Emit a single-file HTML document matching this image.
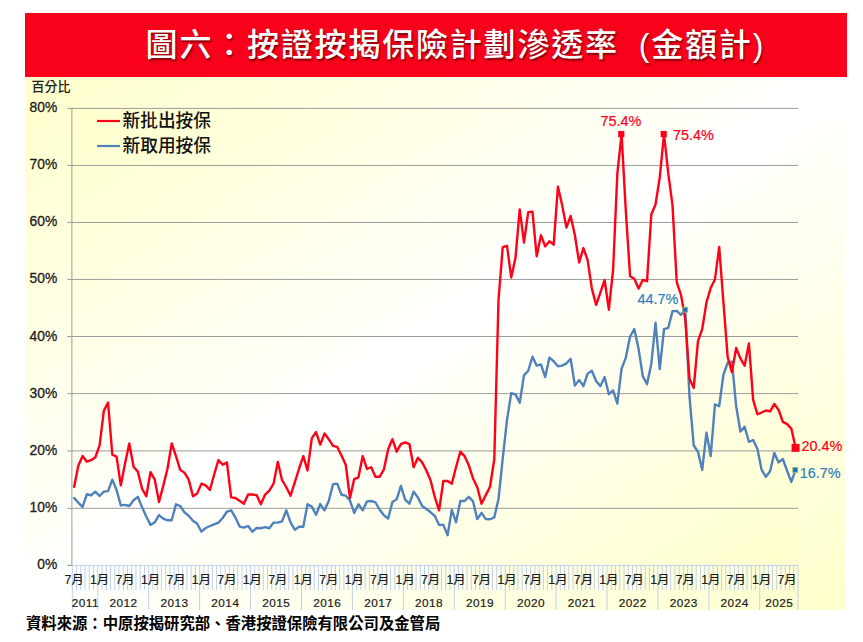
<!DOCTYPE html>
<html lang="zh-Hant">
<head>
<meta charset="utf-8">
<title>圖六：按證按揭保險計劃滲透率 (金額計)</title>
<style>
html,body{margin:0;padding:0;background:#fff;}
body{width:863px;height:642px;position:relative;overflow:hidden;font-family:"Liberation Sans","Noto Sans CJK TC",sans-serif;}
#banner{position:absolute;left:25px;top:13px;width:822px;height:64px;background:#f9001b;}
#title{position:absolute;left:0;top:0;width:822px;height:64px;line-height:64px;color:#fff;white-space:pre;
 font-family:"Liberation Sans","Noto Sans CJK TC",sans-serif;font-size:32px;font-weight:500;letter-spacing:1.8px;
 text-shadow:1px 2px 2px rgba(90,0,0,.75);}
#title span{position:absolute;top:0;}
#t1{left:120.6px;}
#t2{left:613.8px;}
#chartbg{position:absolute;left:25px;top:77px;width:820px;height:533px;
 background:linear-gradient(to bottom right,#ffffcc 0%,#ffffff 50%,#ffffcc 100%);}
#plotbg{position:absolute;left:72px;top:108px;width:726px;height:457px;
 background:linear-gradient(to bottom right,#ffffcc 0%,#ffffff 50%,#ffffcc 100%);}
svg{position:absolute;left:0;top:0;}
#foot{position:absolute;left:26px;top:613px;font-size:15.35px;font-weight:700;color:#000;white-space:nowrap;line-height:22px;
 font-family:"Liberation Sans","Noto Sans CJK TC",sans-serif;}
</style>
</head>
<body>
<div id="banner"><div id="title"><span id="t1">圖六：按證按揭保險計劃滲透率</span><span id="t2">(金額計)</span></div></div>
<div id="chartbg"></div>
<div id="plotbg"></div>
<svg width="863" height="642" viewBox="0 0 863 642">

<g stroke="#9c9c9c" stroke-width="1">
<line x1="67.2" y1="508.30" x2="798" y2="508.30"/>
<line x1="67.2" y1="450.95" x2="798" y2="450.95"/>
<line x1="67.2" y1="393.60" x2="798" y2="393.60"/>
<line x1="67.2" y1="336.50" x2="798" y2="336.50"/>
<line x1="67.2" y1="279.45" x2="798" y2="279.45"/>
<line x1="67.2" y1="222.45" x2="798" y2="222.45"/>
<line x1="67.2" y1="165.45" x2="798" y2="165.45"/>
<line x1="67.2" y1="108.40" x2="798" y2="108.40"/>
<line x1="67.2" y1="565.40" x2="72.4" y2="565.40"/>
<line x1="71.9" y1="107.90" x2="71.9" y2="565.90"/>
</g>
<g stroke="#c0d0eb" stroke-width="1">
<line x1="72.4" y1="565.40" x2="798.4" y2="565.40"/>
<line x1="72.30" y1="565.40" x2="72.30" y2="610"/>
<line x1="76.54" y1="565.40" x2="76.54" y2="590"/>
<line x1="80.79" y1="565.40" x2="80.79" y2="590"/>
<line x1="85.03" y1="565.40" x2="85.03" y2="590"/>
<line x1="89.28" y1="565.40" x2="89.28" y2="590"/>
<line x1="93.52" y1="565.40" x2="93.52" y2="590"/>
<line x1="97.76" y1="565.40" x2="97.76" y2="610"/>
<line x1="102.01" y1="565.40" x2="102.01" y2="590"/>
<line x1="106.25" y1="565.40" x2="106.25" y2="590"/>
<line x1="110.49" y1="565.40" x2="110.49" y2="590"/>
<line x1="114.74" y1="565.40" x2="114.74" y2="590"/>
<line x1="118.98" y1="565.40" x2="118.98" y2="590"/>
<line x1="123.23" y1="565.40" x2="123.23" y2="590"/>
<line x1="127.47" y1="565.40" x2="127.47" y2="590"/>
<line x1="131.71" y1="565.40" x2="131.71" y2="590"/>
<line x1="135.96" y1="565.40" x2="135.96" y2="590"/>
<line x1="140.20" y1="565.40" x2="140.20" y2="590"/>
<line x1="144.45" y1="565.40" x2="144.45" y2="590"/>
<line x1="148.69" y1="565.40" x2="148.69" y2="610"/>
<line x1="152.93" y1="565.40" x2="152.93" y2="590"/>
<line x1="157.18" y1="565.40" x2="157.18" y2="590"/>
<line x1="161.42" y1="565.40" x2="161.42" y2="590"/>
<line x1="165.66" y1="565.40" x2="165.66" y2="590"/>
<line x1="169.91" y1="565.40" x2="169.91" y2="590"/>
<line x1="174.15" y1="565.40" x2="174.15" y2="590"/>
<line x1="178.40" y1="565.40" x2="178.40" y2="590"/>
<line x1="182.64" y1="565.40" x2="182.64" y2="590"/>
<line x1="186.88" y1="565.40" x2="186.88" y2="590"/>
<line x1="191.13" y1="565.40" x2="191.13" y2="590"/>
<line x1="195.37" y1="565.40" x2="195.37" y2="590"/>
<line x1="199.62" y1="565.40" x2="199.62" y2="610"/>
<line x1="203.86" y1="565.40" x2="203.86" y2="590"/>
<line x1="208.10" y1="565.40" x2="208.10" y2="590"/>
<line x1="212.35" y1="565.40" x2="212.35" y2="590"/>
<line x1="216.59" y1="565.40" x2="216.59" y2="590"/>
<line x1="220.84" y1="565.40" x2="220.84" y2="590"/>
<line x1="225.08" y1="565.40" x2="225.08" y2="590"/>
<line x1="229.32" y1="565.40" x2="229.32" y2="590"/>
<line x1="233.57" y1="565.40" x2="233.57" y2="590"/>
<line x1="237.81" y1="565.40" x2="237.81" y2="590"/>
<line x1="242.05" y1="565.40" x2="242.05" y2="590"/>
<line x1="246.30" y1="565.40" x2="246.30" y2="590"/>
<line x1="250.54" y1="565.40" x2="250.54" y2="610"/>
<line x1="254.79" y1="565.40" x2="254.79" y2="590"/>
<line x1="259.03" y1="565.40" x2="259.03" y2="590"/>
<line x1="263.27" y1="565.40" x2="263.27" y2="590"/>
<line x1="267.52" y1="565.40" x2="267.52" y2="590"/>
<line x1="271.76" y1="565.40" x2="271.76" y2="590"/>
<line x1="276.01" y1="565.40" x2="276.01" y2="590"/>
<line x1="280.25" y1="565.40" x2="280.25" y2="590"/>
<line x1="284.49" y1="565.40" x2="284.49" y2="590"/>
<line x1="288.74" y1="565.40" x2="288.74" y2="590"/>
<line x1="292.98" y1="565.40" x2="292.98" y2="590"/>
<line x1="297.22" y1="565.40" x2="297.22" y2="590"/>
<line x1="301.47" y1="565.40" x2="301.47" y2="610"/>
<line x1="305.71" y1="565.40" x2="305.71" y2="590"/>
<line x1="309.96" y1="565.40" x2="309.96" y2="590"/>
<line x1="314.20" y1="565.40" x2="314.20" y2="590"/>
<line x1="318.44" y1="565.40" x2="318.44" y2="590"/>
<line x1="322.69" y1="565.40" x2="322.69" y2="590"/>
<line x1="326.93" y1="565.40" x2="326.93" y2="590"/>
<line x1="331.18" y1="565.40" x2="331.18" y2="590"/>
<line x1="335.42" y1="565.40" x2="335.42" y2="590"/>
<line x1="339.66" y1="565.40" x2="339.66" y2="590"/>
<line x1="343.91" y1="565.40" x2="343.91" y2="590"/>
<line x1="348.15" y1="565.40" x2="348.15" y2="590"/>
<line x1="352.39" y1="565.40" x2="352.39" y2="610"/>
<line x1="356.64" y1="565.40" x2="356.64" y2="590"/>
<line x1="360.88" y1="565.40" x2="360.88" y2="590"/>
<line x1="365.13" y1="565.40" x2="365.13" y2="590"/>
<line x1="369.37" y1="565.40" x2="369.37" y2="590"/>
<line x1="373.61" y1="565.40" x2="373.61" y2="590"/>
<line x1="377.86" y1="565.40" x2="377.86" y2="590"/>
<line x1="382.10" y1="565.40" x2="382.10" y2="590"/>
<line x1="386.35" y1="565.40" x2="386.35" y2="590"/>
<line x1="390.59" y1="565.40" x2="390.59" y2="590"/>
<line x1="394.83" y1="565.40" x2="394.83" y2="590"/>
<line x1="399.08" y1="565.40" x2="399.08" y2="590"/>
<line x1="403.32" y1="565.40" x2="403.32" y2="610"/>
<line x1="407.56" y1="565.40" x2="407.56" y2="590"/>
<line x1="411.81" y1="565.40" x2="411.81" y2="590"/>
<line x1="416.05" y1="565.40" x2="416.05" y2="590"/>
<line x1="420.30" y1="565.40" x2="420.30" y2="590"/>
<line x1="424.54" y1="565.40" x2="424.54" y2="590"/>
<line x1="428.78" y1="565.40" x2="428.78" y2="590"/>
<line x1="433.03" y1="565.40" x2="433.03" y2="590"/>
<line x1="437.27" y1="565.40" x2="437.27" y2="590"/>
<line x1="441.52" y1="565.40" x2="441.52" y2="590"/>
<line x1="445.76" y1="565.40" x2="445.76" y2="590"/>
<line x1="450.00" y1="565.40" x2="450.00" y2="590"/>
<line x1="454.25" y1="565.40" x2="454.25" y2="610"/>
<line x1="458.49" y1="565.40" x2="458.49" y2="590"/>
<line x1="462.74" y1="565.40" x2="462.74" y2="590"/>
<line x1="466.98" y1="565.40" x2="466.98" y2="590"/>
<line x1="471.22" y1="565.40" x2="471.22" y2="590"/>
<line x1="475.47" y1="565.40" x2="475.47" y2="590"/>
<line x1="479.71" y1="565.40" x2="479.71" y2="590"/>
<line x1="483.95" y1="565.40" x2="483.95" y2="590"/>
<line x1="488.20" y1="565.40" x2="488.20" y2="590"/>
<line x1="492.44" y1="565.40" x2="492.44" y2="590"/>
<line x1="496.69" y1="565.40" x2="496.69" y2="590"/>
<line x1="500.93" y1="565.40" x2="500.93" y2="590"/>
<line x1="505.17" y1="565.40" x2="505.17" y2="610"/>
<line x1="509.42" y1="565.40" x2="509.42" y2="590"/>
<line x1="513.66" y1="565.40" x2="513.66" y2="590"/>
<line x1="517.91" y1="565.40" x2="517.91" y2="590"/>
<line x1="522.15" y1="565.40" x2="522.15" y2="590"/>
<line x1="526.39" y1="565.40" x2="526.39" y2="590"/>
<line x1="530.64" y1="565.40" x2="530.64" y2="590"/>
<line x1="534.88" y1="565.40" x2="534.88" y2="590"/>
<line x1="539.12" y1="565.40" x2="539.12" y2="590"/>
<line x1="543.37" y1="565.40" x2="543.37" y2="590"/>
<line x1="547.61" y1="565.40" x2="547.61" y2="590"/>
<line x1="551.86" y1="565.40" x2="551.86" y2="590"/>
<line x1="556.10" y1="565.40" x2="556.10" y2="610"/>
<line x1="560.34" y1="565.40" x2="560.34" y2="590"/>
<line x1="564.59" y1="565.40" x2="564.59" y2="590"/>
<line x1="568.83" y1="565.40" x2="568.83" y2="590"/>
<line x1="573.08" y1="565.40" x2="573.08" y2="590"/>
<line x1="577.32" y1="565.40" x2="577.32" y2="590"/>
<line x1="581.56" y1="565.40" x2="581.56" y2="590"/>
<line x1="585.81" y1="565.40" x2="585.81" y2="590"/>
<line x1="590.05" y1="565.40" x2="590.05" y2="590"/>
<line x1="594.29" y1="565.40" x2="594.29" y2="590"/>
<line x1="598.54" y1="565.40" x2="598.54" y2="590"/>
<line x1="602.78" y1="565.40" x2="602.78" y2="590"/>
<line x1="607.03" y1="565.40" x2="607.03" y2="610"/>
<line x1="611.27" y1="565.40" x2="611.27" y2="590"/>
<line x1="615.51" y1="565.40" x2="615.51" y2="590"/>
<line x1="619.76" y1="565.40" x2="619.76" y2="590"/>
<line x1="624.00" y1="565.40" x2="624.00" y2="590"/>
<line x1="628.25" y1="565.40" x2="628.25" y2="590"/>
<line x1="632.49" y1="565.40" x2="632.49" y2="590"/>
<line x1="636.73" y1="565.40" x2="636.73" y2="590"/>
<line x1="640.98" y1="565.40" x2="640.98" y2="590"/>
<line x1="645.22" y1="565.40" x2="645.22" y2="590"/>
<line x1="649.46" y1="565.40" x2="649.46" y2="590"/>
<line x1="653.71" y1="565.40" x2="653.71" y2="590"/>
<line x1="657.95" y1="565.40" x2="657.95" y2="610"/>
<line x1="662.20" y1="565.40" x2="662.20" y2="590"/>
<line x1="666.44" y1="565.40" x2="666.44" y2="590"/>
<line x1="670.68" y1="565.40" x2="670.68" y2="590"/>
<line x1="674.93" y1="565.40" x2="674.93" y2="590"/>
<line x1="679.17" y1="565.40" x2="679.17" y2="590"/>
<line x1="683.42" y1="565.40" x2="683.42" y2="590"/>
<line x1="687.66" y1="565.40" x2="687.66" y2="590"/>
<line x1="691.90" y1="565.40" x2="691.90" y2="590"/>
<line x1="696.15" y1="565.40" x2="696.15" y2="590"/>
<line x1="700.39" y1="565.40" x2="700.39" y2="590"/>
<line x1="704.64" y1="565.40" x2="704.64" y2="590"/>
<line x1="708.88" y1="565.40" x2="708.88" y2="610"/>
<line x1="713.12" y1="565.40" x2="713.12" y2="590"/>
<line x1="717.37" y1="565.40" x2="717.37" y2="590"/>
<line x1="721.61" y1="565.40" x2="721.61" y2="590"/>
<line x1="725.85" y1="565.40" x2="725.85" y2="590"/>
<line x1="730.10" y1="565.40" x2="730.10" y2="590"/>
<line x1="734.34" y1="565.40" x2="734.34" y2="590"/>
<line x1="738.59" y1="565.40" x2="738.59" y2="590"/>
<line x1="742.83" y1="565.40" x2="742.83" y2="590"/>
<line x1="747.07" y1="565.40" x2="747.07" y2="590"/>
<line x1="751.32" y1="565.40" x2="751.32" y2="590"/>
<line x1="755.56" y1="565.40" x2="755.56" y2="590"/>
<line x1="759.81" y1="565.40" x2="759.81" y2="610"/>
<line x1="764.05" y1="565.40" x2="764.05" y2="590"/>
<line x1="768.29" y1="565.40" x2="768.29" y2="590"/>
<line x1="772.54" y1="565.40" x2="772.54" y2="590"/>
<line x1="776.78" y1="565.40" x2="776.78" y2="590"/>
<line x1="781.02" y1="565.40" x2="781.02" y2="590"/>
<line x1="785.27" y1="565.40" x2="785.27" y2="590"/>
<line x1="789.51" y1="565.40" x2="789.51" y2="590"/>
<line x1="793.76" y1="565.40" x2="793.76" y2="590"/>
<line x1="798.00" y1="565.40" x2="798.00" y2="610"/>
</g>
<g font-family="Liberation Sans, sans-serif" font-size="13.8" fill="#1c1c1c" stroke="#1c1c1c" stroke-width="0.3" text-anchor="end">
<text x="57.2" y="569.4">0%</text>
<text x="57.2" y="512.3">10%</text>
<text x="57.2" y="454.9">20%</text>
<text x="57.2" y="397.6">30%</text>
<text x="57.2" y="340.5">40%</text>
<text x="57.2" y="283.4">50%</text>
<text x="57.2" y="226.4">60%</text>
<text x="57.2" y="169.4">70%</text>
<text x="57.2" y="112.4">80%</text>
</g>
<text x="31.6" y="90.5" font-family="Liberation Sans, Noto Sans CJK TC, sans-serif" font-size="13" fill="#1c1c1c" font-weight="500">百分比</text>
<g font-family="Liberation Sans, Noto Sans CJK TC, sans-serif" font-size="12.3" fill="#1c1c1c" stroke="#1c1c1c" stroke-width="0.2" text-anchor="middle">
<text x="74.12" y="583.6">7月</text>
<text x="99.59" y="583.6">1月</text>
<text x="125.05" y="583.6">7月</text>
<text x="150.51" y="583.6">1月</text>
<text x="175.97" y="583.6">7月</text>
<text x="201.44" y="583.6">1月</text>
<text x="226.90" y="583.6">7月</text>
<text x="252.36" y="583.6">1月</text>
<text x="277.83" y="583.6">7月</text>
<text x="303.29" y="583.6">1月</text>
<text x="328.75" y="583.6">7月</text>
<text x="354.22" y="583.6">1月</text>
<text x="379.68" y="583.6">7月</text>
<text x="405.14" y="583.6">1月</text>
<text x="430.61" y="583.6">7月</text>
<text x="456.07" y="583.6">1月</text>
<text x="481.53" y="583.6">7月</text>
<text x="507.00" y="583.6">1月</text>
<text x="532.46" y="583.6">7月</text>
<text x="557.92" y="583.6">1月</text>
<text x="583.39" y="583.6">7月</text>
<text x="608.85" y="583.6">1月</text>
<text x="634.31" y="583.6">7月</text>
<text x="659.77" y="583.6">1月</text>
<text x="685.24" y="583.6">7月</text>
<text x="710.70" y="583.6">1月</text>
<text x="736.16" y="583.6">7月</text>
<text x="761.63" y="583.6">1月</text>
<text x="787.09" y="583.6">7月</text>
</g>
<g font-family="Liberation Sans, sans-serif" font-size="11.8" letter-spacing="0.45" fill="#1c1c1c" stroke="#1c1c1c" stroke-width="0.2" text-anchor="middle">
<text x="85.33" y="607">2011</text>
<text x="123.53" y="607">2012</text>
<text x="174.45" y="607">2013</text>
<text x="225.38" y="607">2014</text>
<text x="276.31" y="607">2015</text>
<text x="327.23" y="607">2016</text>
<text x="378.16" y="607">2017</text>
<text x="429.08" y="607">2018</text>
<text x="480.01" y="607">2019</text>
<text x="530.94" y="607">2020</text>
<text x="581.86" y="607">2021</text>
<text x="632.79" y="607">2022</text>
<text x="683.72" y="607">2023</text>
<text x="734.64" y="607">2024</text>
<text x="779.20" y="607">2025</text>
</g>
<polyline fill="none" stroke="#4f81bd" stroke-width="2.4" stroke-linejoin="round" stroke-linecap="round" points="74.12,497.98 78.37,502.79 82.61,506.81 86.85,494.25 91.10,495.28 95.34,491.67 99.59,496.03 103.83,491.67 108.07,491.10 112.32,479.62 116.56,489.95 120.80,505.43 125.05,504.86 129.29,506.01 133.54,500.27 137.78,496.83 142.02,507.15 146.27,516.52 150.51,524.86 154.76,522.29 159.00,515.15 163.24,518.58 167.49,520.29 171.73,520.29 175.97,504.29 180.22,506.01 184.46,512.30 188.71,515.72 192.95,520.86 197.19,523.72 201.44,531.71 205.68,528.00 209.93,526.00 214.17,524.29 218.41,522.58 222.66,518.01 226.90,511.73 231.14,510.30 235.39,517.44 239.63,526.57 243.88,527.71 248.12,526.00 252.36,531.71 256.61,528.00 260.85,528.28 265.10,527.14 269.34,528.28 273.58,522.58 277.83,522.58 282.07,521.43 286.31,510.30 290.56,522.29 294.80,529.77 299.05,526.74 303.29,526.74 307.53,504.29 311.78,506.58 316.02,514.81 320.27,504.06 324.51,510.30 328.75,501.02 333.00,484.21 337.24,483.64 341.49,494.77 345.73,495.68 349.97,500.56 354.22,512.87 358.46,504.29 362.70,510.30 366.95,501.42 371.19,501.02 375.44,502.28 379.68,509.78 383.92,515.27 388.17,518.58 392.41,501.99 396.66,499.30 400.90,485.93 405.14,499.70 409.39,503.71 413.63,491.67 417.87,497.40 422.12,506.01 426.36,509.04 430.61,512.30 434.85,516.01 439.09,524.86 443.34,524.86 447.58,535.14 451.83,509.78 456.07,522.29 460.31,501.02 464.56,501.02 468.80,496.83 473.04,501.42 477.29,519.15 481.53,512.87 485.78,519.15 490.02,519.26 494.26,517.44 498.51,499.12 502.75,458.41 507.00,419.98 511.24,393.03 515.48,394.35 519.73,402.78 523.97,375.33 528.21,370.76 532.46,356.77 536.70,365.62 540.95,364.48 545.19,377.04 549.43,357.63 553.68,361.22 557.92,366.19 562.17,365.62 566.41,363.34 570.65,358.77 574.90,385.61 579.14,379.90 583.39,386.18 587.63,373.62 591.87,370.76 596.12,381.04 600.36,386.18 604.60,377.04 608.85,394.17 613.09,390.35 617.34,403.58 621.58,368.70 625.82,357.63 630.07,336.50 634.31,329.08 638.56,348.78 642.80,376.18 647.04,384.12 651.29,363.91 655.53,322.81 659.77,369.05 664.02,329.08 668.26,327.94 672.51,311.11 676.75,310.83 680.99,314.82 685.24,309.69 689.48,396.47 693.73,445.50 697.97,451.70 702.21,469.88 706.46,432.60 710.70,456.11 714.94,404.50 719.19,406.22 723.43,374.76 727.68,362.77 731.92,361.62 736.16,406.22 740.41,431.45 744.65,426.86 748.90,441.77 753.14,440.05 757.38,448.66 761.63,469.88 765.87,476.76 770.11,471.19 774.36,452.96 778.60,462.42 782.85,458.98 787.09,470.74 791.33,481.92 795.58,469.88"/>
<polyline fill="none" stroke="#ff0019" stroke-width="2.4" stroke-linejoin="round" stroke-linecap="round" points="74.12,486.74 78.37,465.46 82.61,455.94 86.85,461.73 91.10,460.24 95.34,457.26 99.59,445.44 103.83,410.86 108.07,402.60 112.32,454.74 116.56,456.69 120.80,485.36 125.05,463.57 129.29,443.49 133.54,466.72 137.78,471.60 142.02,488.51 146.27,496.26 150.51,472.17 154.76,479.62 159.00,501.99 163.24,485.93 167.49,468.73 171.73,443.49 175.97,456.11 180.22,469.88 184.46,472.74 188.71,479.62 192.95,496.26 197.19,493.39 201.44,483.64 205.68,485.36 209.93,489.95 214.17,474.46 218.41,460.13 222.66,464.71 226.90,462.42 231.14,497.40 235.39,497.98 239.63,500.84 243.88,503.71 248.12,494.54 252.36,494.54 256.61,495.11 260.85,504.29 265.10,494.54 269.34,490.52 273.58,483.64 277.83,461.85 282.07,480.20 286.31,487.25 290.56,495.68 294.80,482.49 299.05,468.73 303.29,456.11 307.53,470.45 311.78,438.33 316.02,432.02 320.27,444.64 324.51,433.40 328.75,439.19 333.00,445.79 337.24,446.94 341.49,455.54 345.73,464.71 349.97,497.98 354.22,479.05 358.46,477.33 362.70,456.11 366.95,468.96 371.19,467.24 375.44,476.76 379.68,476.76 383.92,469.30 388.17,449.23 392.41,439.19 396.66,451.70 400.90,444.07 405.14,442.35 409.39,444.07 413.63,467.24 417.87,457.83 422.12,462.42 426.36,470.45 430.61,480.49 434.85,497.40 439.09,510.30 443.34,481.00 447.58,481.00 451.83,483.64 456.07,467.01 460.31,451.70 464.56,456.11 468.80,465.29 473.04,478.48 477.29,487.25 481.53,503.71 485.78,495.11 490.02,486.74 494.26,459.55 498.51,299.99 502.75,247.13 507.00,245.82 511.24,277.45 515.48,257.79 519.73,209.34 523.97,242.68 528.21,212.19 532.46,211.62 536.70,256.31 540.95,235.22 545.19,246.39 549.43,241.26 553.68,244.68 557.92,186.71 562.17,205.35 566.41,227.58 570.65,215.90 574.90,235.22 579.14,262.52 583.39,248.10 587.63,260.07 591.87,288.58 596.12,304.84 600.36,292.57 604.60,280.02 608.85,309.69 613.09,269.99 617.34,173.72 621.58,134.07 625.82,211.05 630.07,276.20 634.31,278.71 638.56,288.58 642.80,280.02 647.04,281.16 651.29,214.47 655.53,204.50 659.77,177.13 664.02,134.07 668.26,173.43 672.51,205.35 676.75,282.30 680.99,294.85 685.24,318.81 689.48,378.75 693.73,387.89 697.97,341.07 702.21,329.08 706.46,302.44 710.70,288.01 714.94,279.45 719.19,246.96 723.43,302.44 727.68,357.06 731.92,372.13 736.16,347.92 740.41,358.43 744.65,365.62 748.90,343.35 753.14,399.91 757.38,414.25 761.63,412.53 765.87,410.46 770.11,411.38 774.36,403.92 778.60,409.94 782.85,421.93 787.09,424.17 791.33,428.58 795.58,447.80"/>
<rect x="618.18" y="130.97" width="6.2" height="6.2" fill="#ff0019"/>
<rect x="660.62" y="130.97" width="6.2" height="6.2" fill="#ff0019"/>
<rect x="791.58" y="443.80" width="8.0" height="8.0" fill="#ff0019"/>
<rect x="682.74" y="307.19" width="5.0" height="5.0" fill="#1f6fbf" stroke="#a5c069" stroke-width="0.8"/>
<rect x="792.78" y="467.38" width="5.0" height="5.0" fill="#1f6fbf" stroke="#a5c069" stroke-width="0.8"/>
<g font-family="Liberation Sans, sans-serif" font-size="14.4" stroke-width="0.2">
<text x="600.5" y="126" fill="#ff0019" stroke="#ff0019">75.4%</text>
<text x="673" y="140" fill="#ff0019" stroke="#ff0019">75.4%</text>
<text x="801.6" y="451.2" fill="#ff0019" stroke="#ff0019">20.4%</text>
<text x="637.5" y="303.5" fill="#2e7fc1" stroke="#2e7fc1">44.7%</text>
<text x="799.8" y="478.3" fill="#2e7fc1" stroke="#2e7fc1">16.7%</text>
</g>
<line x1="97" y1="121" x2="120" y2="121" stroke="#ff0019" stroke-width="2.2"/>
<line x1="97" y1="146" x2="120" y2="146" stroke="#4f81bd" stroke-width="2.2"/>
<g font-family="Liberation Sans, Noto Sans CJK TC, sans-serif" font-size="17.7" fill="#111" font-weight="500">
<text x="122.5" y="127.3">新批出按保</text>
<text x="122.5" y="152.3">新取用按保</text>
</g>
</svg>
<div id="foot">資料來源：中原按揭研究部、香港按證保險有限公司及金管局</div>
</body></html>
